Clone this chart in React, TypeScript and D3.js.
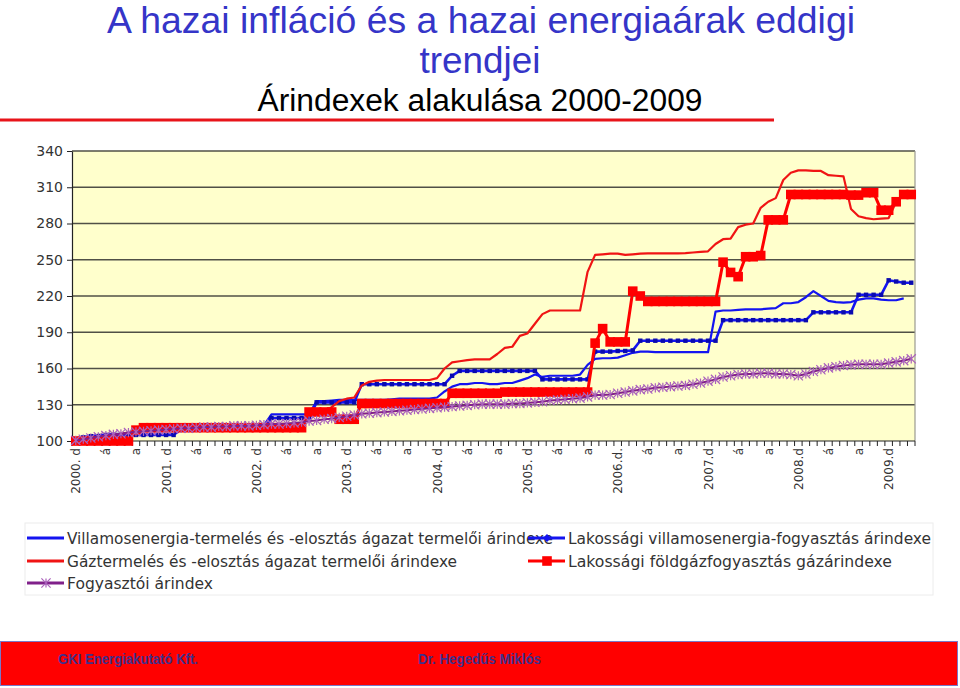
import { useEffect, useRef } from "react";
import * as d3 from "d3";

// x axis: one category per month, a label on every 4th one
const tickLabels = [
  "2000. d", "á", "a", "2001. d", "á", "a", "2002. d", "á", "a",
  "2003. d", "á", "a", "2004. d", "á", "a", "2005. d", "á", "a",
  "2006.d.", "á", "a", "2007.d", "á", "a", "2008.d", "á", "a", "2009.d",
];

const yTicks = [100, 130, 160, 190, 220, 250, 280, 310, 340];

// Villamosenergia-termelés és -elosztás ágazat termelői árindexe
const villTerm: (number | null)[] = [
  100, 103, 104, 105, 105, 106, 106, 107, 107, 106, 105, 105, 105, 106,
  109, 110, 110, 110, 111, 111, 111, 112, 112, 112, 113, 113,
  122, 122, 122, 122, 122, 122,
  133, 133, 133.5, 134, 134, 134,
  134, 134, 134, 134, 134.5, 135, 135, 135, 135, 135,
  136, 141, 145, 147, 147, 148, 148, 147, 147, 148, 148, 150, 152, 155, 153, 154, 154, 154, 154, 155,
  163, 168, 168.5, 168.5, 169, 171, 173, 174, 174, 173.5, 173.5, 173.5, 173.5, 173.5, 173.5, 173.5, 173.5,
  207, 208, 208, 208.5, 209, 209, 209, 209.5, 210, 214, 214, 215, 219, 224, 220, 216, 215, 214.5,
  215, 217, 218, 218, 217, 216.5, 216.5, 218, null,
];

// Lakossági villamosenergia-fogyasztás árindexe
const villLak: (number | null)[] = [
  100, 103, 104, 104, 105, 105, 105, 105, 105, 105, 105, 105, 105, 105,
  110, 110, 110, 110, 110, 110, 110, 110, 110, 110, 110, 110,
  119, 119, 119, 119, 119, 119,
  132, 132, 132, 132, 132, 132,
  147, 147, 147, 147, 147, 147, 147, 147, 147, 147, 147, 147,
  154,
  158, 158, 158, 158, 158, 158, 158, 158, 158, 158, 158,
  151, 151, 151, 151, 151, 151, 151,
  174, 174, 174, 174.5, 174.5, 175,
  183, 183, 183, 183, 183, 183, 183, 183, 183, 183, 183,
  200, 200, 200, 200, 200, 200, 200, 200, 200, 200, 200, 200,
  206.5, 206.5, 206.5, 206.5, 206.5, 206.5,
  221, 221, 221, 221,
  233, 232, 231, 231,
];

// Gáztermelés és -elosztás ágazat termelői árindexe
const gazTerm: (number | null)[] = [
  100, 101, 102, 103, 104, 105, 106, 107, 108, 108, 109, 109, 110, 110, 110, 111,
  111, 111, 111, 111, 111, 112, 112, 112, 112, 112, 113, 113, 113, 113, 114,
  124, 124, 125, 128,
  133, 135, 136,
  146, 149, 150, 150.5, 150.5, 150.5, 150.5, 150.5, 150.5, 150.5,
  152, 160, 165, 166, 167, 167.5, 167.5, 167.5, 172, 177, 178, 187, 189, 197, 205, 208, 208, 208, 208, 208, 240,
  254, 254.5, 255, 255, 254, 254.5, 255, 255.3, 255.3, 255.3, 255.3, 255.3, 255.5, 256, 256.5, 257,
  263, 267, 267.5, 277, 279, 280, 293, 298, 301, 316, 322, 324, 324, 323.5, 323.5, 320, 319.5, 319,
  292, 286, 284.5, 283.5, 284, 284.5, 298, 303, null,
];

// Lakossági földgázfogyasztás gázárindexe
const gazLak: (number | null)[] = [
  100, 100, 100, 100, 100, 100, 100, 100,
  109,
  111, 111, 111, 111, 111, 111, 111, 111, 111, 111, 111,
  111, 111, 111, 111, 111, 111, 111, 111, 111, 111, 111,
  124, 124, 124, 124,
  118, 118, 118,
  131, 131, 131, 131, 131, 131, 131, 131, 131, 131, 131, 131,
  139.5, 139.5, 139.5, 139.5, 139.5, 139.5, 139.5,
  140.5, 140.5, 140.5, 140.5, 140.5, 140.5, 140.5, 140.5, 140.5, 140.5, 140.5, 140.5,
  181, 193, 182, 182, 182,
  224, 220,
  215.5, 215.5, 215.5, 215.5, 215.5, 215.5, 215.5, 215.5, 215.5, 215.5,
  248, 239.5, 236,
  252.5, 252.5, 253.5,
  283, 283, 283,
  304, 304, 304, 304, 304, 304, 304, 304, 303.5, 303.5,
  305.5, 305.5,
  291, 291,
  298,
  304, 304,
];

// Fogyasztói árindex
const cpi: (number | null)[] = [
  100.5, 101.5, 102.5, 103.5, 104.5, 105.5, 106, 107, 107.5, 108,
  108.5, 109, 109.5, 110, 110.5, 110.5, 111, 111.5, 111.5, 112,
  112, 112.5, 112.5, 112.5, 113, 113.5, 114, 114, 114.5, 115,
  115.5, 116.5, 117, 118, 118.5, 119.5, 120.5, 121.5, 122.5, 123,
  123.5, 124, 124.5, 125, 125.5, 126, 126.5, 127, 127.5, 128,
  128.5, 129, 129.5, 130, 130.5, 130.5, 130.5, 130.5, 131, 131,
  131.5, 132, 132.5, 133.5, 134, 134.5, 135, 135.5, 136.5, 138,
  138, 138.5, 139.5, 140.5, 141.5, 142.5, 143, 144, 144.5, 145,
  145.5, 146, 147, 148, 149.5, 151, 153, 154, 155, 155.5,
  155.5, 156, 156, 155.5, 155.5, 155, 154, 155.5, 157.5, 159,
  160.5, 161.5, 162.5, 163, 163.5, 163.5, 163.5, 163.5, 164.5, 165.5,
  166.5, 168,
];

type Marker = "none" | "smallSquare" | "square" | "star";
type Series = { name: string; values: (number | null)[]; color: string; width: number; marker: Marker };

const series: Series[] = [
  { name: "Villamosenergia-termelés és -elosztás ágazat termelői árindexe", values: villTerm, color: "#1414f0", width: 2.2, marker: "none" },
  { name: "Lakossági villamosenergia-fogyasztás árindexe", values: villLak, color: "#1414f0", width: 2.6, marker: "smallSquare" },
  { name: "Gáztermelés és -elosztás ágazat termelői árindexe", values: gazTerm, color: "#f01414", width: 2.2, marker: "none" },
  { name: "Lakossági földgázfogyasztás gázárindexe", values: gazLak, color: "#ff0000", width: 3, marker: "square" },
  { name: "Fogyasztói árindex", values: cpi, color: "#80208a", width: 2, marker: "star" },
];

const legendWidths = [486, 363, 390, 324, 146];

function drawMarker(g: d3.Selection<SVGGElement, unknown, null, undefined>, kind: Marker, cx: number, cy: number, color: string) {
  if (kind === "square") {
    g.append("rect").attr("x", cx - 4.8).attr("y", cy - 4.8).attr("width", 9.6).attr("height", 9.6).attr("fill", color);
  } else if (kind === "smallSquare") {
    g.append("rect").attr("x", cx - 2.2).attr("y", cy - 2.2).attr("width", 4.4).attr("height", 4.4)
      .attr("fill", "#0a0ab0");
  } else if (kind === "star") {
    const s = 4.6;
    g.append("path")
      .attr("d", `M${cx - s},${cy - s}L${cx + s},${cy + s}M${cx - s},${cy + s}L${cx + s},${cy - s}M${cx},${cy - s}L${cx},${cy + s}`)
      .attr("stroke", "#aa62bc")
      .attr("stroke-width", 1.2)
      .attr("fill", "none");
  }
}

export default function App() {
  const svgRef = useRef<SVGSVGElement | null>(null);

  useEffect(() => {
    if (!svgRef.current) return;
    const W = 960;
    const H = 688;
    const plot = { left: 72, right: 915, top: 151, bottom: 441 };
    const n = villLak.length;

    const svg = d3.select(svgRef.current);
    svg.selectAll("*").remove();
    svg.attr("width", W).attr("height", H);

    svg.append("rect").attr("width", W).attr("height", H).attr("fill", "#ffffff");

    // titles
    svg.append("text").attr("x", 481).attr("y", 33).attr("text-anchor", "middle")
      .attr("font-family", "Liberation Sans, Arial, sans-serif").attr("font-size", 36).attr("fill", "#3535c8")
      .attr("textLength", 748).attr("lengthAdjust", "spacingAndGlyphs")
      .text("A hazai infláció és a hazai energiaárak eddigi");
    svg.append("text").attr("x", 480).attr("y", 73).attr("text-anchor", "middle")
      .attr("font-family", "Liberation Sans, Arial, sans-serif").attr("font-size", 36).attr("fill", "#3535c8")
      .attr("textLength", 121).attr("lengthAdjust", "spacingAndGlyphs")
      .text("trendjei");
    svg.append("text").attr("x", 480).attr("y", 111).attr("text-anchor", "middle")
      .attr("font-family", "Liberation Sans, Arial, sans-serif").attr("font-size", 31).attr("fill", "#000000")
      .attr("textLength", 445).attr("lengthAdjust", "spacingAndGlyphs")
      .text("Árindexek alakulása 2000-2009");
    svg.append("rect").attr("x", 0).attr("y", 118.5).attr("width", 774).attr("height", 3).attr("fill", "#e8141a");

    // scales
    const x = d3.scalePoint<number>().domain(d3.range(n)).range([plot.left, plot.right]).padding(0.5);
    const step = x.step();
    const y = d3.scaleLinear().domain([100, 340]).range([plot.bottom, plot.top]);

    // plot background + grid
    svg.append("rect").attr("x", plot.left).attr("y", plot.top)
      .attr("width", plot.right - plot.left).attr("height", plot.bottom - plot.top)
      .attr("fill", "#ffffcc");
    svg.append("g").selectAll("line").data(yTicks.slice(1)).join("line")
      .attr("x1", plot.left).attr("x2", plot.right)
      .attr("y1", (d) => y(d)).attr("y2", (d) => y(d))
      .attr("stroke", "#505046").attr("stroke-width", 1.3);
    svg.append("line").attr("x1", plot.right).attr("x2", plot.right).attr("y1", plot.top).attr("y2", plot.bottom)
      .attr("stroke", "#9a9a90").attr("stroke-width", 1.2);

    // y axis
    const yAxis = svg.append("g").attr("transform", `translate(${plot.left},0)`)
      .call(d3.axisLeft(y).tickValues(yTicks).tickSize(5).tickPadding(4).tickSizeOuter(0));
    yAxis.select(".domain").attr("stroke", "#222").attr("stroke-width", 1.2);
    yAxis.selectAll(".tick line").attr("stroke", "#222");
    yAxis.selectAll("text").attr("font-family", "DejaVu Sans, sans-serif").attr("font-size", 14).attr("fill", "#333");

    // x axis
    const xg = svg.append("g");
    xg.append("line").attr("x1", plot.left).attr("x2", plot.right).attr("y1", plot.bottom).attr("y2", plot.bottom)
      .attr("stroke", "#222").attr("stroke-width", 1.2);
    xg.selectAll("line.tick").data(d3.range(n + 1)).join("line").attr("class", "tick")
      .attr("x1", (i) => plot.left + i * step).attr("x2", (i) => plot.left + i * step)
      .attr("y1", plot.bottom).attr("y2", plot.bottom + 5)
      .attr("stroke", "#222");
    xg.selectAll("text").data(tickLabels).join("text")
      .attr("transform", (_, i) => `translate(${(x(i * 4) ?? 0) + 4.5},${plot.bottom + 7}) rotate(-90)`)
      .attr("text-anchor", "end")
      .attr("font-family", "DejaVu Sans, sans-serif").attr("font-size", 12).attr("fill", "#333")
      .text((d) => d);

    // series
    const line = d3.line<number | null>()
      .defined((d) => d != null)
      .x((_, i) => x(i) ?? 0)
      .y((d) => y(d as number));

    const lines = svg.append("g");
    series.forEach((s) => {
      const g = lines.append("g");
      g.append("path").attr("d", line(s.values)).attr("fill", "none")
        .attr("stroke", s.color).attr("stroke-width", s.width).attr("stroke-linejoin", "round");
      if (s.marker !== "none") {
        s.values.forEach((v, i) => {
          if (v == null) return;
          drawMarker(g, s.marker, x(i) ?? 0, y(v), s.color);
        });
      }
    });

    // legend
    const lg = svg.append("g");
    lg.append("rect").attr("x", 25).attr("y", 523).attr("width", 908).attr("height", 72)
      .attr("fill", "#ffffff").attr("stroke", "#ececec");
    const slots = [
      { x: 27, y: 538 }, { x: 528, y: 538 },
      { x: 27, y: 561 }, { x: 528, y: 561 },
      { x: 27, y: 583 },
    ];
    series.forEach((s, i) => {
      const p = slots[i];
      const g = lg.append("g");
      g.append("line").attr("x1", p.x).attr("x2", p.x + 37).attr("y1", p.y).attr("y2", p.y)
        .attr("stroke", s.color).attr("stroke-width", 3);
      drawMarker(g, s.marker === "smallSquare" ? "none" : s.marker, p.x + 19, p.y, s.color);
      if (s.marker === "smallSquare") {
        g.append("path").attr("d", `M${p.x + 15},${p.y}L${p.x + 19},${p.y - 4}L${p.x + 23},${p.y}L${p.x + 19},${p.y + 4}Z`)
          .attr("fill", s.color);
      }
      g.append("text").attr("x", p.x + 40).attr("y", p.y + 6)
        .attr("font-family", "DejaVu Sans, sans-serif").attr("font-size", 16).attr("fill", "#333")
        .attr("textLength", legendWidths[i]).attr("lengthAdjust", "spacingAndGlyphs")
        .text(s.name);
    });

    // footer
    svg.append("rect").attr("x", 0.5).attr("y", 641.5).attr("width", 957).attr("height", 44)
      .attr("fill", "#ff0000").attr("stroke", "#7a78c8").attr("stroke-width", 1);
    svg.append("text").attr("x", 58).attr("y", 664)
      .attr("font-family", "Liberation Sans, Arial, sans-serif").attr("font-weight", "bold").attr("font-size", 15)
      .attr("fill", "#40308c").attr("textLength", 140).attr("lengthAdjust", "spacingAndGlyphs")
      .text("GKI Energiakutató Kft.");
    svg.append("text").attr("x", 418).attr("y", 664)
      .attr("font-family", "Liberation Sans, Arial, sans-serif").attr("font-weight", "bold").attr("font-size", 15)
      .attr("fill", "#40308c").attr("textLength", 123).attr("lengthAdjust", "spacingAndGlyphs")
      .text("Dr. Hegedűs Miklós");
  }, []);

  return <svg ref={svgRef} style={{ position: "absolute", left: 0, top: 0 }} />;
}
